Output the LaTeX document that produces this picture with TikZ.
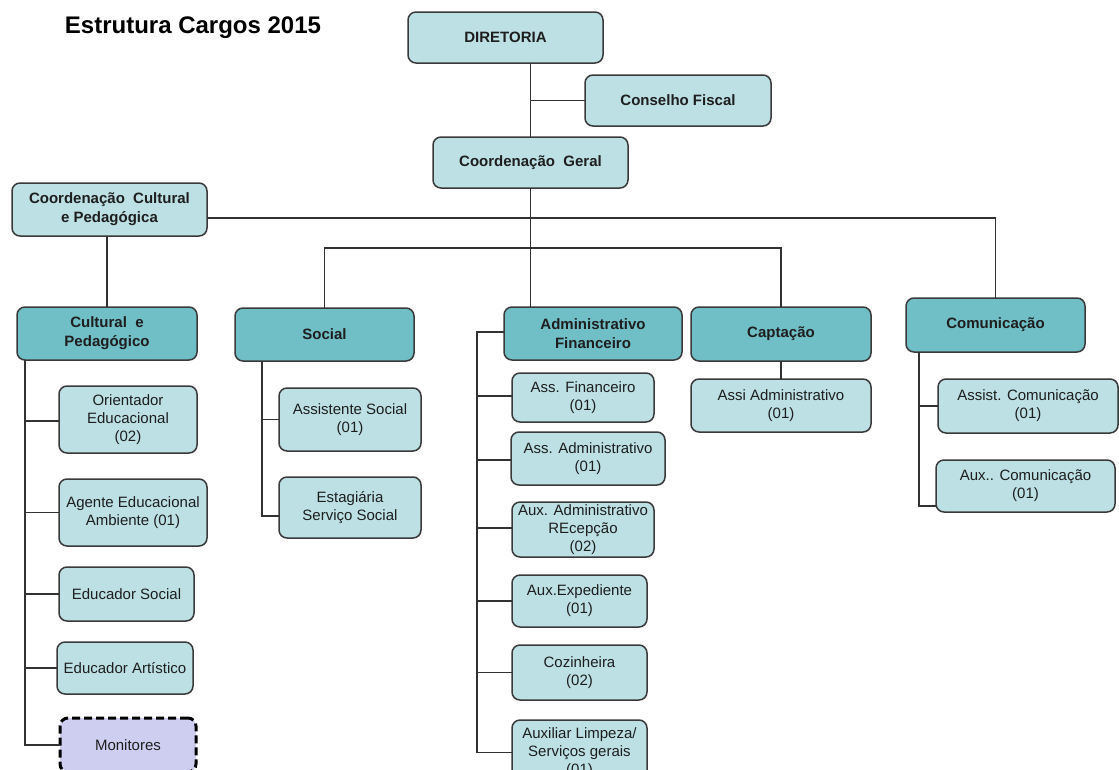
\documentclass[tikz,border=0pt]{standalone}
\usepackage{fontspec}
\setmainfont{Liberation Sans}
\definecolor{lightc}{RGB}{188,224,228}
\definecolor{darkc}{RGB}{112,190,198}
\definecolor{lavc}{RGB}{206,206,240}
\definecolor{bordc}{RGB}{58,58,58}
\definecolor{linec}{RGB}{50,50,50}
\definecolor{txtc}{RGB}{30,30,30}
\begin{document}
\begin{tikzpicture}[x=1pt,y=-1pt,
  box/.style={draw=bordc, line width=1.5pt, rounded corners=8pt, inner sep=0pt, outer sep=0pt,
    align=center, text=txtc, font=\fontsize{15}{18}\selectfont},
  sz/.style 2 args={minimum width=#1pt, minimum height=#2pt},
  lbox/.style={box, fill=lightc},
  dbox/.style={box, fill=darkc, font=\bfseries\fontsize{15}{19}\selectfont},
  mbox/.style={box, fill=lightc, font=\bfseries\fontsize{15}{19}\selectfont},
  dashbox/.style={box, fill=lavc, draw=black, line width=3pt, dash pattern=on 8pt off 4pt},
  conn/.style={draw=linec, line width=1.5pt}]
\clip (0,0) rectangle (1119,769);
\fill[white] (0,0) rectangle (1119,769);

% title
\node[font=\bfseries\fontsize{24}{28}\selectfont, text=black] (title) at (193,28) {Estrutura Cargos 2015};

% top levels
\node[mbox, sz={195}{51}] (dir) at (505.5,37.5) {DIRETORIA};
\node[mbox, sz={186}{51}] (cf) at (678,100.5) {Conselho Fiscal};
\node[mbox, sz={195}{51}] (cg) at (530.5,162.5) {Coordenação\ \ Geral};
\node[mbox, sz={195}{53}] (ccp) at (109.5,209.5) {Coordenação\ \ Cultural\\e Pedagógica};

% level 2
\node[dbox, sz={180}{53}] (cp) at (107,333.5) {Cultural\ \ e\\Pedagógico};
\node[dbox, sz={179}{53}] (soc) at (324.5,334.5) {Social};
\node[dbox, sz={178}{53}] (adm) at (593,333.5) {Administrativo\\Financeiro};
\node[dbox, sz={180}{54}] (cap) at (781,334) {Captação};
\node[dbox, sz={179}{54}] (com) at (995.5,325) {Comunicação};

% Cultural column
\node[lbox, sz={138}{67}] (oe) at (128,419.5) {Orientador\\Educacional\\(02)};
\node[lbox, sz={148}{67}] (ag) at (133,512.5) {Agente Educacional\\Ambiente (01)};
\node[lbox, sz={135}{54}] (es) at (126.5,594) {Educador Social};
\node[lbox, sz={136}{52}] (ea) at (125,668) {Educador Artístico};
\node[dashbox, sz={136}{54}] (mon) at (128,745) {Monitores};

% Social column
\node[lbox, sz={142}{63}] (as) at (350,419.5) {Assistente Social\\(01)};
\node[lbox, sz={142}{61}] (ess) at (350,507.5) {Estagiária\\Serviço Social};

% Administrativo column
\node[lbox, sz={142}{49}] (af1) at (583,397.5) {Ass. Financeiro\\(01)};
\node[lbox, sz={154}{53}] (af2) at (588,458.5) {Ass. Administrativo\\(01)};
\node[lbox, sz={142}{55}] (af3) at (583,529.5) {Aux. Administrativo\\REcepção\\(02)};
\node[lbox, sz={135}{52}] (af4) at (579.5,601) {Aux.Expediente\\(01)};
\node[lbox, sz={135}{55}] (af5) at (579.5,672.5) {Cozinheira\\(02)};
\node[lbox, sz={135}{65}] (af6) at (579.5,752.5) {Auxiliar Limpeza/\\Serviços gerais\\(01)};

% Captação
\node[lbox, sz={180}{53}] (aa) at (781,405.5) {Assi Administrativo\\(01)};

% Comunicação column
\node[lbox, sz={180}{54}] (ac) at (1028,406) {Assist. Comunicação\\(01)};
\node[lbox, sz={179}{52}] (axc) at (1025.5,486) {Aux.. Comunicação\\(01)};

% bus coordinates
\coordinate (cpbus) at (25,360);
\coordinate (socbus) at (262,361);
\coordinate (admbus) at (477,332);
\coordinate (combus) at (919,352);
\coordinate (bus2) at (530,248);

% top connectors
\draw[conn] (cg.north |- dir.south) -- (cg.north);
\draw[conn] (cf.west) -- (cf.west -| cg.north);
\draw[conn] (cg.south) -- (cg.south |- adm.north);
\draw[conn] ([yshift=-8.5pt]ccp.east) -| (com.north);
\draw[conn] (cp.north |- ccp.south) -- (cp.north);
\draw[conn] (soc.north) |- (bus2) -| (cap.north);

% Cultural
\draw[conn] (cpbus) |- (mon.west);
\draw[conn] ([yshift=-1.5pt]oe.west) -- ([yshift=-1.5pt]oe.west -| cpbus);
\draw[conn] (ag.west) -- (ag.west -| cpbus);
\draw[conn] (es.west) -- (es.west -| cpbus);
\draw[conn] (ea.west) -- (ea.west -| cpbus);

% Social
\draw[conn] (socbus) |- ([yshift=-8.5pt]ess.west);
\draw[conn] (as.west) -- (as.west -| socbus);

% Administrativo
\draw[conn] ([yshift=1.5pt]adm.west) -- (admbus) |- (af6.west);
\draw[conn] ([yshift=1.5pt]af1.west) -- ([yshift=1.5pt]af1.west -| admbus);
\draw[conn] ([yshift=-1.5pt]af2.west) -- ([yshift=-1.5pt]af2.west -| admbus);
\draw[conn] ([yshift=1.5pt]af3.west) -- ([yshift=1.5pt]af3.west -| admbus);
\draw[conn] (af4.west) -- (af4.west -| admbus);
\draw[conn] (af5.west) -- (af5.west -| admbus);

% Captação
\draw[conn] (cap.south) -- (aa.north);

% Comunicação
\draw[conn] (combus) |- ([yshift=-20pt]axc.west);
\draw[conn] (ac.west) -- (ac.west -| combus);
\end{tikzpicture}
\end{document}
